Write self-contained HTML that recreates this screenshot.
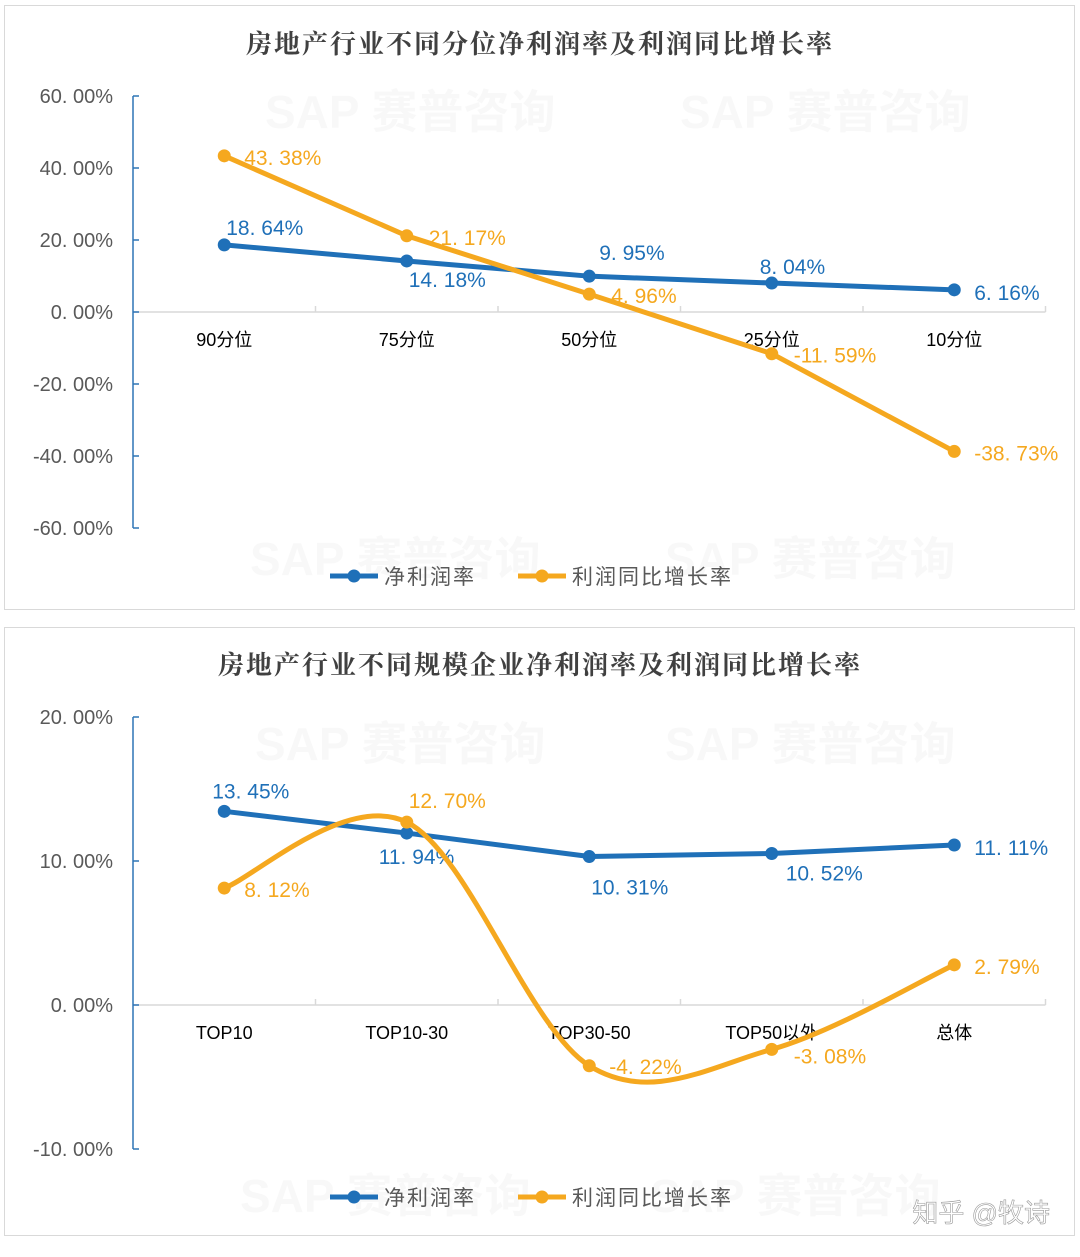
<!DOCTYPE html>
<html><head><meta charset="utf-8"><style>
body{margin:0;background:#fff;width:1080px;height:1257px;overflow:hidden}
svg{display:block}
text{font-family:"Liberation Sans","Noto Sans CJK SC",sans-serif}
.t{font-family:"Liberation Serif","Noto Serif CJK SC",serif;font-size:26px;fill:#404040;font-weight:bold;letter-spacing:2px}
.tick{font-size:20px;fill:#595959;text-anchor:end}
.cat{font-size:18px;fill:#000;text-anchor:middle}
.lbl{font-size:21px}
.wm{font-size:46px;font-weight:bold;fill:#000;opacity:0.025}
</style></head><body>
<svg id="s" width="1080" height="1257">
<rect x="4.5" y="5.5" width="1070" height="604" fill="#fff" stroke="#d9d9d9"/>
<rect x="4.5" y="627.5" width="1070" height="608" fill="#fff" stroke="#d9d9d9"/>
<g>
<text class="wm" x="265" y="128">SAP 赛普咨询</text><text class="wm" x="680" y="128">SAP 赛普咨询</text>
<text class="wm" x="250" y="575">SAP 赛普咨询</text><text class="wm" x="665" y="575">SAP 赛普咨询</text>
<text class="wm" x="255" y="760">SAP 赛普咨询</text><text class="wm" x="665" y="760">SAP 赛普咨询</text>
<text class="wm" x="240" y="1212">SAP 赛普咨询</text><text class="wm" x="650" y="1212">SAP 赛普咨询</text>
</g>
<text class="t" x="540" y="53" text-anchor="middle">房地产行业不同分位净利润率及利润同比增长率</text>
<text class="t" x="540" y="674" text-anchor="middle">房地产行业不同规模企业净利润率及利润同比增长率</text>
<g id="c1"></g><g id="c2"></g>
<text x="1050" y="1222" font-size="26" fill="#fff" stroke="#999" stroke-width="0.6" text-anchor="end">知乎 @牧诗</text>
</svg>
<script>
const cats1=["90分位","75分位","50分位","25分位","10分位"];
const margin1=[18.64,14.18,9.95,8.04,6.16];
const growth1=[43.38,21.17,4.96,-11.59,-38.73];
const ticks1=[60,40,20,0,-20,-40,-60];
const cats2=["TOP10","TOP10-30","TOP30-50","TOP50以外","总体"];
const margin2=[13.45,11.94,10.31,10.52,11.11];
const growth2=[8.12,12.70,-4.22,-3.08,2.79];
const ticks2=[20,10,0,-10];
const BLUE="#1f70b8",ORANGE="#f5a81f",NS="http://www.w3.org/2000/svg";
function mk(p,tag,a){const e=document.createElementNS(NS,tag);for(const k in a)e.setAttribute(k,a[k]);p.appendChild(e);return e;}
function fmt(v){return v.toFixed(2).replace('.', '. ')+'%';}
function draw(g,o){
 const y=v=>o.y0-(v/o.step)*o.px, x=i=>o.x0+o.bw*(i+0.5);
 const xl=o.x0,xr=o.x0+o.bw*o.cats.length;
 mk(g,'line',{x1:xl,x2:xr,y1:y(0),y2:y(0),stroke:'#d9d9d9','stroke-width':1.5});
 for(let i=1;i<=o.cats.length;i++)mk(g,'line',{x1:xl+o.bw*i,x2:xl+o.bw*i,y1:y(0),y2:y(0)-6,stroke:'#d9d9d9','stroke-width':1.5});
 const ya=mk(g,'line',{x1:xl,x2:xl,y1:y(o.ticks[0]),y2:y(o.ticks[o.ticks.length-1]),stroke:'#2e75b6','stroke-width':1.5});
 
 o.ticks.forEach(t=>{mk(g,'line',{x1:xl,x2:xl+6,y1:y(t),y2:y(t),stroke:'#2e75b6','stroke-width':1.5});
  const tt=mk(g,'text',{class:'tick',x:xl-20,y:y(t)+7});tt.textContent=fmt(t);
  });
 o.cats.forEach((c,i)=>{const t=mk(g,'text',{class:'cat',x:x(i),y:y(0)+34});t.textContent=c;
  });
 const series=[{v:o.m,c:BLUE,off:o.mOff,smooth:false,n:'net-margin'},{v:o.g,c:ORANGE,off:o.gOff,smooth:o.smooth,n:'profit-growth'}];
 series.forEach(s=>{
  const P=s.v.map((v,i)=>[x(i),y(v)]);
  let d='M'+P[0][0]+','+P[0][1];
  for(let i=1;i<P.length;i++){
   if(s.smooth){const p0=P[Math.max(0,i-2)],p1=P[i-1],p2=P[i],p3=P[Math.min(P.length-1,i+1)];
    d+=` C${p1[0]+(p2[0]-p0[0])/6},${p1[1]+(p2[1]-p0[1])/6} ${p2[0]-(p3[0]-p1[0])/6},${p2[1]-(p3[1]-p1[1])/6} ${p2[0]},${p2[1]}`;}
   else d+=' L'+P[i][0]+','+P[i][1];}
  const pa=mk(g,'path',{d:d,fill:'none',stroke:s.c,'stroke-width':5,'stroke-linejoin':'round'});
  
  P.forEach((p,i)=>{const c=mk(g,'circle',{cx:p[0],cy:p[1],r:6.5,fill:s.c});
   
   const t=mk(g,'text',{class:'lbl',x:p[0]+s.off[i][0],y:p[1]+s.off[i][1],fill:s.c});t.textContent=fmt(s.v[i]);
   });
 });
 const ly=o.legY;
 [[BLUE,o.legX[0],'净利润率','legend-net-margin'],[ORANGE,o.legX[1],'利润同比增长率','legend-profit-growth']].forEach(L=>{
  const lg=mk(g,'g',{});
  mk(lg,'line',{x1:L[1],x2:L[1]+48,y1:ly,y2:ly,stroke:L[0],'stroke-width':5});
  mk(lg,'circle',{cx:L[1]+24,cy:ly,r:6.5,fill:L[0]});
  const t=mk(lg,'text',{x:L[1]+54,y:ly+8,'font-size':21,fill:'#595959','letter-spacing':'2'});t.textContent=L[2];});
}
draw(document.getElementById('c1'),{x0:133,bw:182.5,y0:312,step:20,px:72,ticks:ticks1,cats:cats1,m:margin1,g:growth1,smooth:false,
 mOff:[[2,-10],[2,26],[10,-16],[-12,-9],[20,10]],gOff:[[20,9],[22,9],[22,9],[22,9],[20,9]],legY:576,legX:[330,518]});
draw(document.getElementById('c2'),{x0:133,bw:182.5,y0:1005,step:10,px:144,ticks:ticks2,cats:cats2,m:margin2,g:growth2,smooth:true,
 mOff:[[-12,-13],[-28,31],[2,38],[14,27],[20,10]],gOff:[[20,9],[2,-14],[20,8],[22,14],[20,9]],legY:1197,legX:[330,518]});
</script>
</body></html>
